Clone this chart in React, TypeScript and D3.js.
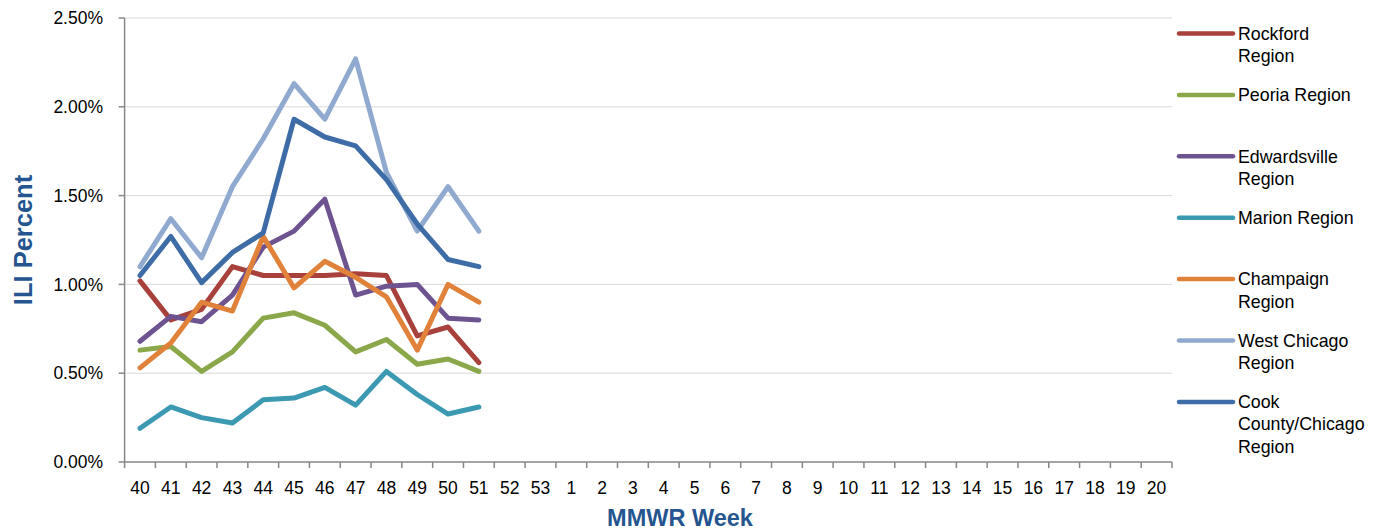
import * as d3 from 'd3';
import { useEffect } from 'react';

const weeks = [
    '40', '41', '42', '43', '44', '45', '46', '47', '48', '49', '50', '51', '52', '53',
    '1', '2', '3', '4', '5', '6', '7', '8', '9', '10', '11', '12', '13', '14', '15', '16', '17', '18', '19', '20',
];

const yTicks = [0, 0.5, 1, 1.5, 2, 2.5];

// ILI percent by region, weeks 40-51
const rockford = [1.02, 0.80, 0.86, 1.10, 1.05, 1.05, 1.05, 1.06, 1.05, 0.71, 0.76, 0.56];
const peoria = [0.63, 0.65, 0.51, 0.62, 0.81, 0.84, 0.77, 0.62, 0.69, 0.55, 0.58, 0.51];
const edwardsville = [0.68, 0.82, 0.79, 0.94, 1.21, 1.30, 1.48, 0.94, 0.99, 1.00, 0.81, 0.80];
const marion = [0.19, 0.31, 0.25, 0.22, 0.35, 0.36, 0.42, 0.32, 0.51, 0.38, 0.27, 0.31];
const champaign = [0.53, 0.67, 0.90, 0.85, 1.27, 0.98, 1.13, 1.04, 0.93, 0.63, 1.00, 0.90];
const westChicago = [1.10, 1.37, 1.15, 1.55, 1.82, 2.13, 1.93, 2.27, 1.63, 1.30, 1.55, 1.30];
const cookCounty = [1.05, 1.27, 1.01, 1.18, 1.29, 1.93, 1.83, 1.78, 1.59, 1.34, 1.14, 1.10];

const series = [
    { name: ['Rockford', 'Region'], values: rockford, color: '#A8403C' },
    { name: ['Peoria Region'], values: peoria, color: '#8AA84A' },
    { name: ['Edwardsville', 'Region'], values: edwardsville, color: '#6D5490' },
    { name: ['Marion Region'], values: marion, color: '#3B99B1' },
    { name: ['Champaign', 'Region'], values: champaign, color: '#E0823A' },
    { name: ['West Chicago', 'Region'], values: westChicago, color: '#90A9CF' },
    { name: ['Cook', 'County/Chicago', 'Region'], values: cookCounty, color: '#3E6CA7' },
];

const width = 1384;
const height = 531;
const margin = { top: 18, right: 212, bottom: 69, left: 124.6 };
const font = 'Liberation Sans, Arial, sans-serif';
const titleColor = '#24558F';
const axisColor = '#878787';

export default function App() {
    useEffect(() => {
        document.body.style.margin = '0';
    }, []);

    const x = d3.scaleBand()
        .domain(weeks)
        .range([margin.left, width - margin.right]);

    const y = d3.scaleLinear()
        .domain([0, 2.5])
        .range([height - margin.bottom, margin.top]);

    const line = d3.line<number>()
        .x((_, i) => x(weeks[i])! + x.bandwidth() / 2)
        .y(d => y(d));

    const x0 = margin.left;
    const x1 = width - margin.right;
    const yBase = y(0);

    return (
        <svg width={width} height={height} style={{ display: 'block', background: '#fff' }} fontFamily={font}>
            {/* grid */}
            {yTicks.filter(t => t > 0).map(t => (
                <line key={t} x1={x0} x2={x1} y1={y(t)} y2={y(t)} stroke="#D9D9D9" strokeWidth={1} />
            ))}

            {/* y axis */}
            <line x1={x0} x2={x0} y1={y(2.5)} y2={yBase} stroke={axisColor} strokeWidth={1.5} />
            {yTicks.map(t => (
                <g key={t}>
                    <line x1={x0 - 6} x2={x0} y1={y(t)} y2={y(t)} stroke={axisColor} strokeWidth={1.5} />
                    <text x={103} y={y(t)} dy="0.35em" textAnchor="end" fontSize={17.5} fill="#000">
                        {d3.format('.2f')(t) + '%'}
                    </text>
                </g>
            ))}

            {/* x axis */}
            <line x1={x0} x2={x1} y1={yBase} y2={yBase} stroke={axisColor} strokeWidth={1.5} />
            {weeks.map(w => (
                <line key={'t' + w} x1={x(w)!} x2={x(w)!} y1={yBase} y2={yBase + 6} stroke={axisColor} strokeWidth={1.5} />
            ))}
            <line x1={x1} x2={x1} y1={yBase} y2={yBase + 6} stroke={axisColor} strokeWidth={1.5} />
            {weeks.map(w => (
                <text key={'l' + w} x={x(w)! + x.bandwidth() / 2} y={494} textAnchor="middle" fontSize={17.5} fill="#000">
                    {w}
                </text>
            ))}

            {/* series */}
            {series.map(s => (
                <path key={s.name.join(' ')} d={line(s.values)!} fill="none" stroke={s.color}
                    strokeWidth={5} strokeLinejoin="round" strokeLinecap="round" />
            ))}

            {/* legend */}
            {series.map((s, i) => {
                const ly = 33.5 + i * 61.4;
                return (
                    <g key={'lg' + i}>
                        <line x1={1179} x2={1233} y1={ly} y2={ly} stroke={s.color} strokeWidth={4.5} strokeLinecap="round" />
                        {s.name.map((n, j) => (
                            <text key={j} x={1238} y={ly + j * 22.2} dy="0.35em" fontSize={17.8} fill="#000">{n}</text>
                        ))}
                    </g>
                );
            })}

            {/* axis titles */}
            <text transform={`translate(32,240) rotate(-90)`} textAnchor="middle" fontSize={25.5}
                fontWeight="bold" fill={titleColor}>ILI Percent</text>
            <text x={680} y={526} textAnchor="middle" fontSize={23.5} fontWeight="bold" fill={titleColor}>MMWR Week</text>
        </svg>
    );
}
